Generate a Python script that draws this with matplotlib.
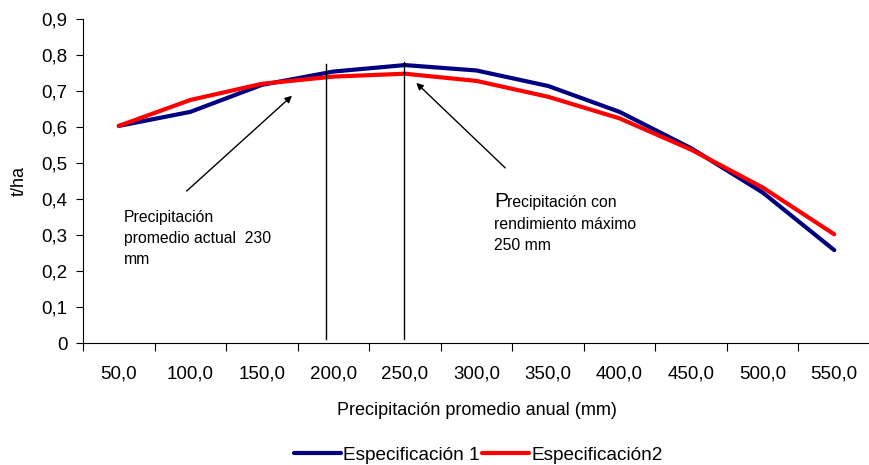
import matplotlib.pyplot as plt
import matplotlib.transforms as mtransforms

plt.rcParams['font.family'] = ['Liberation Sans', 'DejaVu Sans']

categorias = ['50,0', '100,0', '150,0', '200,0', '250,0', '300,0',
              '350,0', '400,0', '450,0', '500,0', '550,0']
espec1 = [0.603, 0.642, 0.717, 0.754, 0.772, 0.757, 0.714, 0.642, 0.541, 0.418, 0.258]
espec2 = [0.603, 0.675, 0.720, 0.740, 0.748, 0.728, 0.684, 0.624, 0.537, 0.432, 0.302]
y_ticks = [0, 0.1, 0.2, 0.3, 0.4, 0.5, 0.6, 0.7, 0.8, 0.9]
y_labels = ['0', '0,1', '0,2', '0,3', '0,4', '0,5', '0,6', '0,7', '0,8', '0,9']

fig = plt.figure(figsize=(8.69, 4.65), dpi=100)
ax = fig.add_axes([83/869, 1-343/465, (870-83)/869, (343-19)/465])

x = list(range(len(categorias)))
ax.plot(x, espec1, color='#000080', lw=3, label='Especificación 1', solid_capstyle='round')
ax.plot(x, espec2, color='#FF0000', lw=3, label='Especificación2', solid_capstyle='round')

# lineas verticales (230 mm y 250 mm)
ax.plot([2.9, 2.9], [0.01, 0.775], color='black', lw=1)
ax.plot([3.98, 3.98], [0.01, 0.78], color='black', lw=1)

# flechas
ax.annotate('', xy=(2.45, 0.692), xytext=(0.92, 0.417),
            arrowprops=dict(arrowstyle='-|>', color='black', lw=1, mutation_scale=10))
ax.annotate('', xy=(4.13, 0.728), xytext=(5.43, 0.481),
            arrowprops=dict(arrowstyle='-|>', color='black', lw=1, mutation_scale=10))

ax.text(0.07, 0.37, 'Precipitación\npromedio actual  230\nmm', fontsize=11.3,
        va='top', ha='left', linespacing=1.5)
x2 = 5.25
ax.text(x2, 0.378, 'P', fontsize=15, va='baseline', ha='left')
tr = mtransforms.offset_copy(ax.transData, fig=fig, x=13, y=0, units='dots')
ax.text(x2, 0.378, 'recipitación con', fontsize=11.3, va='baseline', ha='left', transform=tr)
ax.text(x2, 0.317, 'rendimiento máximo', fontsize=11.3, va='baseline', ha='left')
ax.text(x2, 0.258, '250 mm', fontsize=11.3, va='baseline', ha='left')

ax.set_xlim(-0.5, 10.5)
ax.set_ylim(0, 0.9)
ax.set_xticks([i - 0.5 for i in range(len(categorias) + 1)])
ax.set_xticklabels([])
ax.set_xticks(x, minor=True)
ax.set_xticklabels(categorias, minor=True, fontsize=13.5)
ax.tick_params(axis='x', which='minor', length=0, pad=16)
ax.tick_params(axis='x', which='major', length=6, direction='out')
ax.set_yticks(y_ticks)
ax.set_yticklabels(y_labels, fontsize=13.5)
ax.tick_params(axis='y', length=5, direction='out', pad=6)

for s in ['top', 'right']:
    ax.spines[s].set_visible(False)

ax.set_xlabel('Precipitación promedio anual (mm)', fontsize=13, labelpad=14)
ax.set_ylabel('t/ha', fontsize=13, labelpad=10)

fig.legend(loc='center', bbox_to_anchor=(478/869, 1-455/465), ncol=2, frameon=False,
           fontsize=13.7, handlelength=2.5, columnspacing=0.1, handletextpad=0.1)

plt.savefig('out.png', dpi=100)
